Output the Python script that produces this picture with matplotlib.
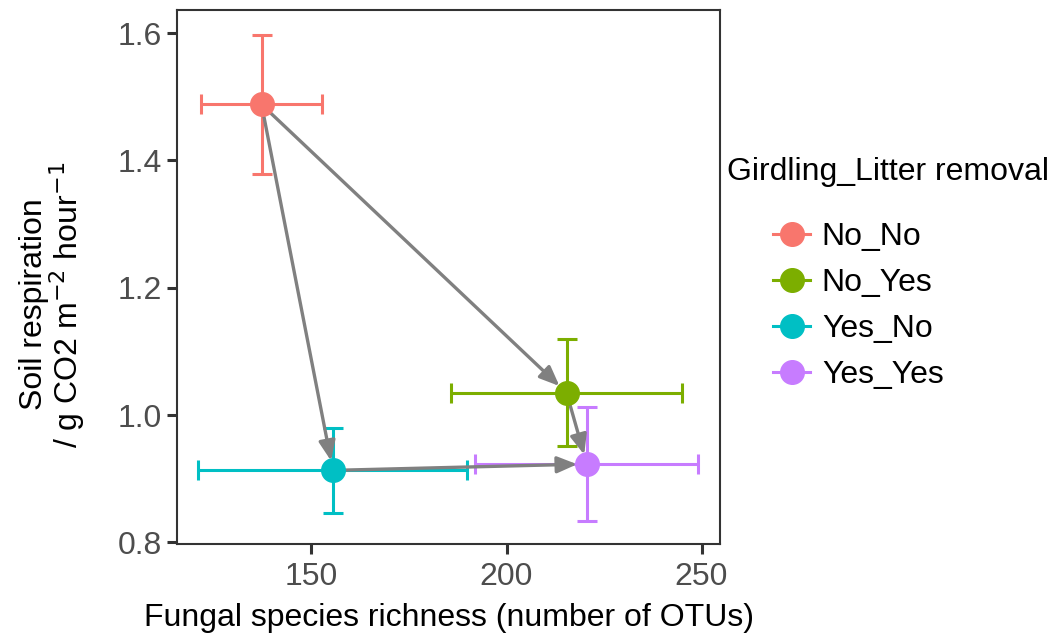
import numpy as np
import matplotlib.pyplot as plt
from matplotlib.lines import Line2D

plt.rcParams['font.family'] = ['Liberation Sans', 'DejaVu Sans']

groups = ['No_No', 'No_Yes', 'Yes_No', 'Yes_Yes']
colors = ['#F8766D', '#7CAE00', '#00BFC4', '#C77CFF']
richness = [137.2, 215.4, 155.5, 220.6]
richness_se = [15.6, 29.6, 34.5, 28.6]
resp = [1.488, 1.035, 0.913, 0.923]
resp_se = [0.109, 0.084, 0.067, 0.090]
# arrows between treatment means (from index, to index)
arrows = [(0, 2), (0, 1), (2, 3), (1, 3)]

fig = plt.figure(figsize=(10.53, 6.41), dpi=100)
ax = fig.add_axes([0.168, 0.151, 0.516, 0.833])

for i in range(len(groups)):
    ax.errorbar(richness[i], resp[i], xerr=richness_se[i], yerr=resp_se[i],
                fmt='none', ecolor=colors[i], elinewidth=2.2, capsize=7, capthick=2.2, zorder=2)

for a, b in arrows:
    ax.annotate('', xy=(richness[b], resp[b]), xytext=(richness[a], resp[a]),
                arrowprops=dict(arrowstyle='-|>,head_length=1.2,head_width=0.5',
                                color='#808080', lw=2.4, shrinkA=0, shrinkB=7),
                zorder=3)

for i in range(len(groups)):
    ax.plot(richness[i], resp[i], 'o', color=colors[i], ms=17, zorder=4)

ax.set_xlim(115.5, 254.8)
ax.set_ylim(0.797, 1.636)
ax.set_xticks([150, 200, 250])
ax.set_yticks([0.8, 1.0, 1.2, 1.4, 1.6])
ax.set_yticklabels(['0.8', '1.0', '1.2', '1.4', '1.6'])
for s in ax.spines.values():
    s.set_color('#333333')
    s.set_linewidth(1.5)
ax.tick_params(direction='out', length=7, width=2.2, color='#333333',
               labelcolor='#4D4D4D', labelsize=23, pad=4)
ax.tick_params(axis='x', pad=6)

ax.set_xlabel('Fungal species richness (number of OTUs)', fontsize=23, labelpad=8)
ax.set_ylabel('Soil respiration\n/ g CO2 m$^{-2}$ hour$^{-1}$', fontsize=23,
              linespacing=0.95)
ax.yaxis.set_label_coords(-0.166, 0.449)

fig.text(727 / 1053, 1 - 172 / 641, 'Girdling_Litter removal', fontsize=23,
         ha='left', va='center')
handles = [Line2D([0], [0], color=c, marker='o', ms=17, lw=2.2) for c in colors]
leg = fig.legend(handles, groups, loc='upper left',
                 bbox_to_anchor=(773 / 1053, 1 - 222 / 641), frameon=False, fontsize=23,
                 handlelength=1.16, handletextpad=0.37, borderpad=0,
                 labelspacing=0.5, borderaxespad=0)

fig.savefig('out.png', dpi=100)
